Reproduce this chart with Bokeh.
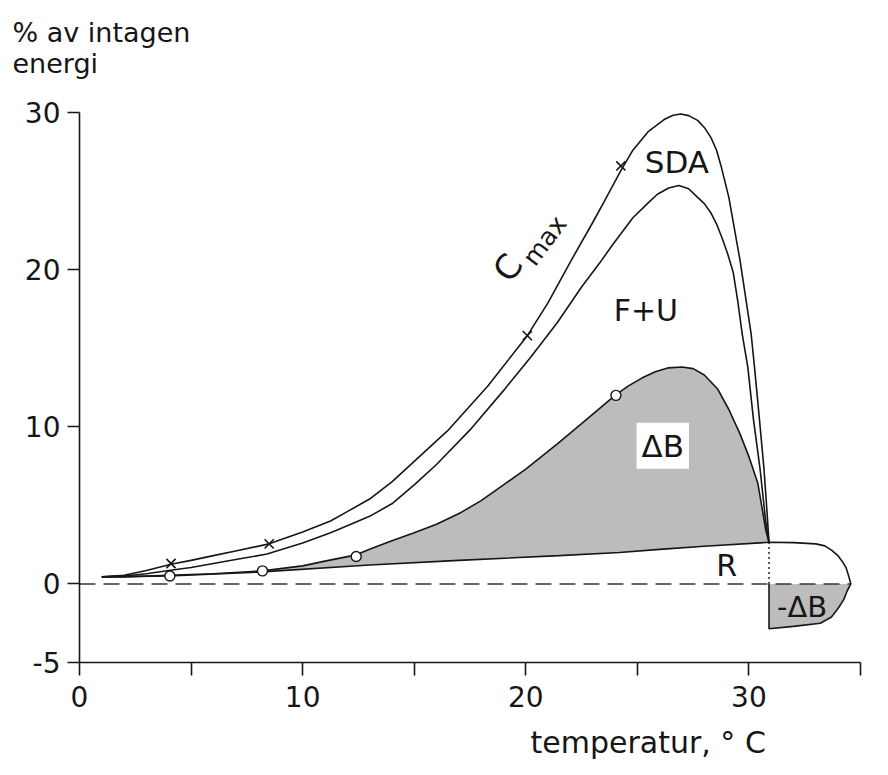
from bokeh.plotting import figure
from bokeh.models import Range1d, FixedTicker, Label, Title
from bokeh.embed import file_html
from bokeh.resources import INLINE

# ---------------- data ----------------
# C_max curve (upper)
cmax_t = [1.0, 2.0, 3.0, 4.1, 5.0, 6.0, 7.0, 8.5, 10.0, 11.25, 12.0, 13.0, 14.0, 15.0, 16.5,
          18.3, 20.07, 21.0, 22.0, 23.0, 23.5, 24.26, 24.8, 25.5, 26.2, 26.6, 26.95, 27.3,
          27.7, 28.0, 28.3, 28.55, 28.75, 29.1, 29.6, 30.1, 30.25, 30.45, 30.67, 30.8, 30.9]
cmax_v = [0.45, 0.55, 0.85, 1.25, 1.5, 1.8, 2.1, 2.55, 3.3, 4.0, 4.6, 5.4, 6.5, 7.8, 9.75,
          12.6, 15.8, 17.9, 20.5, 23.0, 24.3, 26.3, 27.6, 28.8, 29.55, 29.82, 29.9, 29.8,
          29.5, 29.05, 28.4, 27.6, 26.6, 24.6, 20.6, 15.9, 13.8, 10.8, 7.4, 4.8, 2.65]

# F+U curve (second)
fu_t = [1.0, 2.0, 3.0, 4.0, 5.0, 6.0, 7.0, 8.4, 10.0, 11.25, 12.0, 13.0, 14.0, 15.0, 16.0,
        17.5, 19.0, 20.2, 21.4, 22.5, 23.3, 23.9, 24.8, 25.45, 25.9, 26.4, 26.86, 27.3,
        27.7, 28.0, 28.3, 28.55, 28.8, 29.05, 29.3, 29.5, 29.7, 29.95, 30.2, 30.5, 30.75,
        30.9]
fu_v = [0.45, 0.5, 0.65, 0.85, 1.05, 1.3, 1.55, 1.9, 2.6, 3.25, 3.7, 4.3, 5.1, 6.3, 7.6,
        9.8, 12.3, 14.4, 16.6, 18.9, 20.4, 21.6, 23.3, 24.2, 24.8, 25.2, 25.35, 25.15,
        24.6, 24.2, 23.6, 22.9, 22.0, 21.0, 19.8, 18.0, 15.9, 13.8, 10.5, 7.3, 4.0, 2.65]

# Delta B (upper edge of the shaded area)
db_t = [1.0, 2.0, 4.0, 6.0, 8.2, 10.0, 11.0, 12.4, 13.0, 14.0, 15.0, 16.0, 17.1, 18.0,
        19.0, 20.0, 21.4, 22.5, 24.0, 24.6, 25.2, 25.8, 26.4, 27.0, 27.5, 28.0, 28.6,
        29.1, 29.6, 30.0, 30.4, 30.76, 30.9]
db_v = [0.45, 0.45, 0.55, 0.65, 0.83, 1.15, 1.45, 1.85, 2.2, 2.75, 3.25, 3.8, 4.55, 5.3,
        6.3, 7.3, 8.9, 10.2, 12.0, 12.6, 13.1, 13.5, 13.75, 13.8, 13.7, 13.3, 12.4,
        11.1, 9.55, 8.1, 6.4, 3.4, 2.65]

# R (respiration) up to the crossing, then its tail
r_t = [1.0, 4.0, 8.0, 13.0, 17.0, 21.5, 24.2, 26.0, 28.0, 30.9]
r_v = [0.45, 0.5, 0.75, 1.2, 1.5, 1.8, 2.0, 2.2, 2.4, 2.65]
r_tail_t = [30.9, 32.0, 33.0, 33.4, 33.7, 34.0, 34.2, 34.35, 34.45, 34.57]
r_tail_v = [2.65, 2.63, 2.55, 2.42, 2.15, 1.78, 1.4, 1.04, 0.6, 0.0]

# negative Delta B (lower edge)
neg_t = [30.9, 32.0, 33.2, 33.7, 34.0, 34.25, 34.4, 34.57]
neg_v = [-2.85, -2.7, -2.5, -2.1, -1.55, -1.0, -0.45, 0.0]

# measured points
cross_t = [4.1, 8.5, 20.07, 24.26]
cross_v = [1.3, 2.55, 15.8, 26.6]
circle_t = [4.05, 8.2, 12.4, 24.04]
circle_v = [0.5, 0.83, 1.75, 12.0]

x_ticks = [0, 5, 10, 15, 20, 25, 30, 35]
x_tick_text = ["0", "", "10", "", "20", "", "30", ""]
y_ticks = [-5, 0, 10, 20, 30]
y_tick_text = ["-5", "0", "10", "20", "30"]

y_title = "% av intagen\nenergi\n"
x_title = "temperatur, ° C"

FONT = "DejaVu Sans"
INK = "#161616"

# ---------------- figure ----------------
p = figure(width=888, height=775, output_backend="svg", toolbar_location=None,
           x_range=Range1d(0, 35), y_range=Range1d(-5, 30),
           min_border_left=79, min_border_right=28, min_border_top=112,
           min_border_bottom=113)
p.outline_line_color = None
p.xgrid.grid_line_color = None
p.ygrid.grid_line_color = None
p.background_fill_color = "white"
p.border_fill_color = "white"

for ax, ticks, texts, tick_out, standoff in ((p.xaxis[0], x_ticks, x_tick_text, 13, 10),
                                             (p.yaxis[0], y_ticks, y_tick_text, 12, 7)):
    ax.ticker = FixedTicker(ticks=ticks)
    ax.major_label_overrides = {t: s for t, s in zip(ticks, texts)}
    ax.major_tick_out = tick_out
    ax.major_tick_in = 0
    ax.minor_tick_line_color = None
    ax.axis_line_width = 1.6
    ax.axis_line_color = INK
    ax.major_tick_line_width = 1.6
    ax.major_tick_line_color = INK
    ax.major_label_text_font = FONT
    ax.major_label_text_font_size = "28px"
    ax.major_label_text_color = INK
    ax.major_label_standoff = standoff

# y-axis title (top left, two lines)
p.title.text = y_title
p.title.align = "left"
p.title.offset = -67
p.title.vertical_align = "top"
p.title.standoff = 2
p.title.text_font = FONT
p.title.text_font_size = "27px"
p.title.text_font_style = "normal"
p.title.text_color = INK
p.title.text_line_height = 1.0

# x-axis title (bottom right)
p.add_layout(Title(text=x_title, align="left", offset=451, vertical_align="bottom",
                   standoff=26, text_font=FONT, text_font_size="30px",
                   text_font_style="normal", text_color=INK), "below")

# shaded Delta B area (between R and Delta B)
p.patch(db_t + r_t[::-1], db_v + r_v[::-1], fill_color="#bcbcbc", line_color=None)
# shaded negative Delta B area
p.patch([neg_t[0]] + neg_t, [0] + neg_v, fill_color="#bcbcbc", line_color=None)

# zero line (dashed) and dotted vertical at the crossing
p.line([0, r_tail_t[-1]], [0, 0], line_color="#333333", line_width=1.6, line_dash="16 8")
p.line([r_t[-1], r_t[-1]], [0, r_v[-1]], line_color=INK, line_width=1.4, line_dash="2 3")

# curves
lw = 1.6
p.line(cmax_t, cmax_v, line_color=INK, line_width=lw)
p.line(fu_t, fu_v, line_color=INK, line_width=lw)
p.line(db_t, db_v, line_color=INK, line_width=lw)
p.line(r_t + r_tail_t, r_v + r_tail_v, line_color=INK, line_width=lw)
p.line([neg_t[0]] + neg_t, [0] + neg_v, line_color=INK, line_width=lw)

# markers
p.scatter(circle_t, circle_v, marker="circle", size=10, fill_color="white",
          line_color=INK, line_width=1.4)
p.scatter(cross_t, cross_v, marker="x", size=13, line_color=INK, line_width=1.6)

# ---------------- texts inside the plot ----------------
def lab(x, y, text, size, angle=0, bg=None):
    kw = dict(x=x, y=y, text=text, text_font=FONT, text_font_size=f"{size}px",
              text_color=INK, text_align="center", text_baseline="middle", angle=angle)
    if bg is not None:
        kw["background_fill_color"] = bg
        kw["padding"] = 5
    p.add_layout(Label(**kw))

lab(26.77, 26.85, "SDA", 31)
lab(25.38, 17.4, "F+U", 30)
lab(26.14, 8.8, "ΔB", 31, bg="white")
lab(29.0, 1.15, "R", 30)
lab(32.38, -1.46, "-ΔB", 29)
lab(19.19, 20.13, "C", 34, angle=0.93)
lab(20.85, 21.85, "max", 25, angle=0.93)

open("out.html", "w").write(file_html(p, INLINE))
